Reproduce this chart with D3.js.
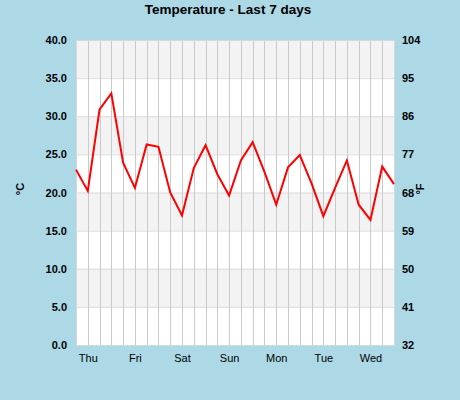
<!DOCTYPE html>
<html>
<head>
<meta charset="utf-8">
<script src="https://cdn.jsdelivr.net/npm/d3@7"></script>
<style>
  body { margin: 0; background: #add8e6; }
  svg { display: block; font-family: Arial, "Liberation Sans", sans-serif; }
</style>
</head>
<body>
<svg width="460" height="400"></svg>
<script>
// readings every 6 hours, °C
var tempC = [23.0, 20.2, 30.9, 33.0, 23.9, 20.6, 26.3, 26.0, 20.0, 17.0,
             23.2, 26.2, 22.4, 19.6, 24.2, 26.6, 22.7, 18.4, 23.3, 24.9,
             21.2, 16.9, 20.6, 24.2, 18.4, 16.4, 23.4, 21.1];
var dayLabels = ["Thu", "Fri", "Sat", "Sun", "Mon", "Tue", "Wed"];
var dayIndex = [1, 5, 9, 13, 17, 21, 25];
var ticksC = [0, 5, 10, 15, 20, 25, 30, 35, 40];
var ticksF = [32, 41, 50, 59, 68, 77, 86, 95, 104];

// window.top is read-only, so plot edges get their own names
var plotL = 76, plotR = 394, plotT = 40, plotB = 345;

var svg = d3.select("svg");

var scaleX = d3.scaleLinear()
                .domain([0, tempC.length - 1])
                .range([plotL, plotR]);

var scaleY = d3.scaleLinear()
                .domain([0, 40])
                .range([plotB, plotT]);

var scaleF = d3.scaleLinear()
                .domain([32, 104])
                .range([plotB, plotT]);

// plot background
svg.append("rect")
    .attr("x", plotL).attr("y", plotT)
    .attr("width", plotR - plotL).attr("height", plotB - plotT)
    .attr("fill", "#fff");

// alternate grey bands
svg.selectAll("rect.band")
    .data(ticksC.slice(0, -1).filter(function(d, i) { return i % 2 == 1; }))
    .enter()
    .append("rect")
    .attr("class", "band")
    .attr("x", plotL)
    .attr("y", function(d) { return scaleY(d + 5); })
    .attr("width", plotR - plotL)
    .attr("height", function(d) { return scaleY(d) - scaleY(d + 5); })
    .attr("fill", "#f3f3f3");

// horizontal grid
svg.selectAll("line.hgrid")
    .data(ticksC)
    .enter()
    .append("line")
    .attr("x1", plotL).attr("x2", plotR)
    .attr("y1", function(d) { return scaleY(d) + 0.5; })
    .attr("y2", function(d) { return scaleY(d) + 0.5; })
    .attr("stroke", "#dcdcdc");

// vertical grid, one per reading
svg.selectAll("line.vgrid")
    .data(tempC)
    .enter()
    .append("line")
    .attr("x1", function(d, i) { return Math.round(scaleX(i)) + 0.5; })
    .attr("x2", function(d, i) { return Math.round(scaleX(i)) + 0.5; })
    .attr("y1", plotT).attr("y2", plotB)
    .attr("stroke", "#cacaca");

svg.append("rect")
    .attr("x", plotL + 0.5).attr("y", plotT + 0.5)
    .attr("width", plotR - plotL).attr("height", plotB - plotT)
    .attr("fill", "none")
    .attr("stroke", "#d8d8d8");

// temperature line
var line = d3.line()
    .x(function(d, i) { return scaleX(i); })
    .y(function(d) { return scaleY(d); });

svg.append("path")
    .datum(tempC)
    .attr("d", line)
    .attr("fill", "none")
    .attr("stroke", "#ff0000")
    .attr("stroke-width", 2);

// axes
var axisL = svg.append("g")
    .attr("transform", "translate(" + plotL + ",0)")
    .call(d3.axisLeft(scaleY).tickValues(ticksC).tickFormat(d3.format(".1f")).tickSize(0).tickPadding(9));

var axisR = svg.append("g")
    .attr("transform", "translate(" + plotR + ",0)")
    .call(d3.axisRight(scaleF).tickValues(ticksF).tickFormat(d3.format("d")).tickSize(0).tickPadding(8));

var axisB = svg.append("g")
    .attr("transform", "translate(0," + plotB + ")")
    .call(d3.axisBottom(scaleX).tickValues(dayIndex)
          .tickFormat(function(d) { return dayLabels[dayIndex.indexOf(d)]; })
          .tickSize(0).tickPadding(9));

[axisL, axisR, axisB].forEach(function(a) {
    a.select(".domain").remove();
    a.selectAll("text")
        .attr("fill", "#000")
        .style("font-family", "Arial, 'Liberation Sans', sans-serif")
        .style("font-size", "11px");
});
axisL.selectAll("text").style("font-weight", "bold");
axisR.selectAll("text").style("font-weight", "bold");

// unit labels
svg.append("text")
    .attr("transform", "translate(24,189) rotate(-90)")
    .attr("text-anchor", "middle")
    .style("font-size", "11px").style("font-weight", "bold")
    .text("°C");

svg.append("text")
    .attr("transform", "translate(424,189) rotate(-90)")
    .attr("text-anchor", "middle")
    .style("font-size", "11px").style("font-weight", "bold")
    .text("°F");

// title
svg.append("text")
    .attr("x", 228).attr("y", 14)
    .attr("text-anchor", "middle")
    .style("font-size", "13.5px").style("font-weight", "bold")
    .text("Temperature - Last 7 days");
</script>
</body>
</html>
